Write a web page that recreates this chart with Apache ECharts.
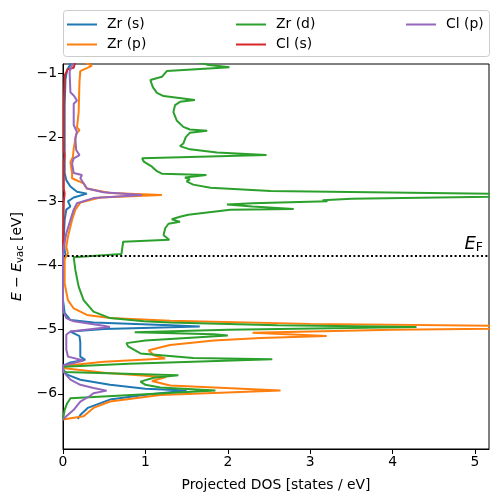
<!DOCTYPE html>
<html>
<head>
<meta charset="utf-8">
<script src="https://cdn.jsdelivr.net/npm/echarts@6/dist/echarts.min.js"></script>
<style>html,body{margin:0;padding:0;background:#fff}#c{width:498px;height:502px}</style>
</head>
<body>
<div id="c"></div>
<script>
// ---- data: [DOS (states/eV), energy E - E_vac (eV)] ----
const zrS = [[0.10,-0.80],[0.09,-0.87],[0.05,-0.95],[0.03,-1.10],[0.02,-1.50],[0.02,-2.00],[0.02,-2.40],[0.02,-2.56],[0.04,-2.67],[0.09,-2.77],[0.17,-2.85],[0.29,-2.88],[0.13,-2.94],[0.06,-3.00],[0.09,-3.08],[0.04,-3.13],[0.02,-3.29],[0.01,-3.55],[0.02,-3.76],[0.03,-3.83],[0.01,-3.90],[0.00,-4.00],[0.00,-4.54],[0.02,-4.74],[0.09,-4.85],[0.37,-4.89],[1.30,-4.93],[1.66,-4.95],[0.50,-4.99],[0.09,-5.03],[0.20,-5.10],[0.21,-5.20],[0.21,-5.42],[0.27,-5.47],[0.09,-5.51],[0.00,-5.56],[0.00,-5.62],[0.05,-5.70],[0.21,-5.78],[0.57,-5.86],[1.00,-5.92],[1.50,-5.95],[0.98,-6.02],[0.57,-6.09],[0.30,-6.22],[0.21,-6.33],[0.18,-6.39]];
const zrP = [[0.25,-0.82],[0.35,-0.89],[0.21,-0.97],[0.20,-1.14],[0.19,-1.61],[0.17,-1.85],[0.20,-1.89],[0.16,-1.95],[0.13,-2.18],[0.12,-2.31],[0.09,-2.39],[0.11,-2.56],[0.11,-2.64],[0.25,-2.72],[0.29,-2.80],[0.57,-2.87],[1.20,-2.90],[0.45,-2.94],[0.21,-3.02],[0.15,-3.13],[0.11,-3.29],[0.06,-3.55],[0.04,-3.71],[0.06,-3.81],[0.02,-3.90],[0.02,-4.28],[0.06,-4.54],[0.13,-4.67],[0.29,-4.77],[0.57,-4.82],[1.30,-4.86],[3.00,-4.91],[7.00,-4.96],[4.00,-5.00],[2.30,-5.05],[3.20,-5.10],[2.40,-5.13],[1.83,-5.17],[1.30,-5.24],[1.04,-5.32],[1.10,-5.40],[1.24,-5.45],[0.50,-5.50],[0.05,-5.56],[0.02,-5.60],[0.50,-5.67],[1.25,-5.74],[1.08,-5.80],[1.30,-5.87],[2.64,-5.95],[1.18,-6.02],[0.57,-6.12],[0.37,-6.22],[0.25,-6.35],[0.00,-6.40]];
const zrD = [[1.60,-0.82],[1.75,-0.87],[2.02,-0.91],[1.26,-0.97],[1.20,-1.06],[1.06,-1.11],[1.09,-1.22],[1.14,-1.31],[1.22,-1.36],[1.60,-1.42],[1.42,-1.45],[1.36,-1.50],[1.34,-1.61],[1.38,-1.74],[1.46,-1.84],[1.54,-1.88],[1.75,-1.90],[1.54,-1.93],[1.49,-2.00],[1.46,-2.10],[1.42,-2.14],[1.54,-2.19],[1.87,-2.24],[2.47,-2.28],[0.96,-2.33],[0.98,-2.38],[1.08,-2.46],[1.14,-2.53],[1.20,-2.57],[1.74,-2.59],[1.48,-2.63],[1.54,-2.66],[1.50,-2.69],[1.58,-2.74],[1.79,-2.79],[2.52,-2.84],[6.50,-2.905],[3.50,-2.96],[3.15,-2.985],[3.21,-3.00],[2.30,-3.03],[1.99,-3.05],[2.30,-3.08],[2.80,-3.12],[2.03,-3.13],[1.52,-3.21],[1.42,-3.24],[1.32,-3.28],[1.42,-3.32],[1.28,-3.35],[1.24,-3.42],[1.22,-3.53],[1.29,-3.60],[0.73,-3.63],[0.71,-3.82],[0.13,-3.87],[0.15,-4.07],[0.19,-4.33],[0.25,-4.54],[0.37,-4.72],[0.57,-4.82],[0.98,-4.87],[1.30,-4.89],[2.60,-4.93],[4.29,-4.96],[2.00,-5.00],[0.87,-5.04],[1.83,-5.07],[2.00,-5.09],[1.50,-5.13],[1.00,-5.17],[0.77,-5.21],[0.79,-5.26],[0.94,-5.37],[1.58,-5.44],[2.54,-5.46],[0.80,-5.53],[0.00,-5.58],[0.01,-5.66],[1.40,-5.71],[1.10,-5.75],[0.94,-5.81],[1.00,-5.86],[1.18,-5.90],[1.85,-5.95],[0.09,-6.07],[0.05,-6.15],[0.02,-6.25],[0.00,-6.40]];
const clS = [[0.15,-0.82],[0.13,-0.92],[0.06,-0.94],[0.02,-1.04],[0.01,-1.50],[0.01,-2.20],[0.02,-2.28],[0.01,-2.40],[0.01,-2.80],[0.02,-2.88],[0.01,-3.00],[0.00,-3.80]];
const clP = [[0.12,-0.82],[0.11,-0.88],[0.08,-0.98],[0.09,-1.30],[0.13,-1.35],[0.17,-1.43],[0.13,-1.48],[0.13,-1.61],[0.13,-1.81],[0.17,-1.92],[0.15,-2.02],[0.16,-2.20],[0.20,-2.28],[0.13,-2.33],[0.11,-2.41],[0.13,-2.56],[0.23,-2.59],[0.21,-2.64],[0.29,-2.80],[0.49,-2.86],[0.96,-2.90],[0.37,-2.95],[0.17,-3.03],[0.13,-3.13],[0.09,-3.29],[0.04,-3.50],[0.01,-3.71],[0.00,-3.86],[0.00,-4.70],[0.04,-4.82],[0.13,-4.87],[0.49,-4.94],[0.57,-4.96],[0.09,-5.03],[0.04,-5.08],[0.04,-5.31],[0.06,-5.42],[0.25,-5.48],[0.13,-5.52],[0.00,-5.56],[0.00,-5.65],[0.09,-5.78],[0.21,-5.86],[0.37,-5.91],[0.53,-5.95],[0.37,-5.99],[0.33,-6.03],[0.21,-6.12],[0.13,-6.25],[0.04,-6.35],[0.00,-6.40]];
const seriesNames = ['Zr (s)','Zr (p)','Zr (d)','Cl (s)','Cl (p)'];
const seriesColors = ['#1f77b4','#ff7f0e','#2ca02c','#d62728','#9467bd'];
const EF = -3.85;
const xTicks = [0,1,2,3,4,5];
const yTicks = [-6,-5,-4,-3,-2,-1];
const xRange = [0, 5.17];
const yRange = [-6.86, -0.86];

const FONT = 'DejaVu Sans';
const FS = 13.9;
const minus = v => String(v).replace('-', '\u2212');
const allData = [zrS, zrP, zrD, clS, clP];

const series = allData.map((d, i) => ({
  name: seriesNames[i], type: 'line', data: d, showSymbol: false, symbol: 'none',
  lineStyle: {color: seriesColors[i], width: 2}, itemStyle: {color: seriesColors[i]},
  clip: true, animation: false, z: 2 + i
}));
series.push({
  name: 'EF', type: 'line', data: [], animation: false, z: 10,
  markLine: {
    silent: true, symbol: 'none', animation: false,
    lineStyle: {color: '#000', width: 2, type: [2, 2.4]},
    label: {
      show: true, position: 'insideEndTop', distance: [6, 2],
      formatter: '{e|E}{f|F}',
      rich: {
        e: {fontFamily: FONT, fontStyle: 'italic', fontSize: 18, color: '#000'},
        f: {fontFamily: FONT, fontSize: 12.5, color: '#000', verticalAlign: 'bottom', padding: [6, 0, 0, 0]}
      }
    },
    data: [{yAxis: EF}]
  }
});

const legendCommon = {
  orient: 'vertical', icon: 'rect', itemWidth: 30, itemHeight: 2, itemGap: 5, padding: 0,
  textStyle: {fontFamily: FONT, fontSize: FS, color: '#000', padding: [0, 0, 0, 5], lineHeight: 15},
  selectedMode: false
};

const chart = echarts.init(document.getElementById('c'), null, {renderer: 'canvas'});
chart.setOption({
  backgroundColor: '#fff',
  animation: false,
  graphic: [{
    type: 'rect', left: 63, top: 10, z: 0,
    shape: {width: 426, height: 46, r: 3},
    style: {fill: 'rgba(255,255,255,0.8)', stroke: '#cccccc', lineWidth: 1}
  }],
  legend: [
    Object.assign({}, legendCommon, {left: 67, top: 17, data: [seriesNames[0], seriesNames[1]]}),
    Object.assign({}, legendCommon, {left: 236, top: 17, data: [seriesNames[2], seriesNames[3]]}),
    Object.assign({}, legendCommon, {left: 406, top: 17, data: [seriesNames[4]]})
  ],
  grid: {left: 63, right: 9, top: 64, bottom: 53, show: true, borderColor: '#000', borderWidth: 1, backgroundColor: 'transparent'},
  xAxis: {
    type: 'value', min: xRange[0], max: xRange[1],
    name: 'Projected DOS [states / eV]', nameLocation: 'middle', nameGap: 29,
    nameTextStyle: {fontFamily: FONT, fontSize: FS, color: '#000'},
    axisLine: {show: true, lineStyle: {color: '#000', width: 1}},
    axisTick: {show: true, length: 5, lineStyle: {color: '#000'}, customValues: xTicks},
    axisLabel: {fontFamily: FONT, fontSize: FS, color: '#000', margin: 6, customValues: xTicks, formatter: v => minus(v)},
    splitLine: {show: false}
  },
  yAxis: {
    type: 'value', min: yRange[0], max: yRange[1],
    name: '{i|E} \u2212 {i|E}{s|vac} [eV]', nameLocation: 'middle', nameGap: 38, nameRotate: 90,
    nameTextStyle: {fontFamily: FONT, fontSize: FS, color: '#000',
      rich: {
        i: {fontFamily: FONT, fontSize: FS, fontStyle: 'italic', color: '#000'},
        s: {fontFamily: FONT, fontSize: 10, color: '#000', verticalAlign: 'bottom', padding: [5, 0, 0, 0]}
      }},
    axisLine: {show: true, lineStyle: {color: '#000', width: 1}},
    axisTick: {show: true, length: 5, lineStyle: {color: '#000'}, customValues: yTicks},
    axisLabel: {fontFamily: FONT, fontSize: FS, color: '#000', margin: 6, customValues: yTicks, formatter: v => minus(v)},
    splitLine: {show: false}
  },
  series: series
});
</script>
</body>
</html>
